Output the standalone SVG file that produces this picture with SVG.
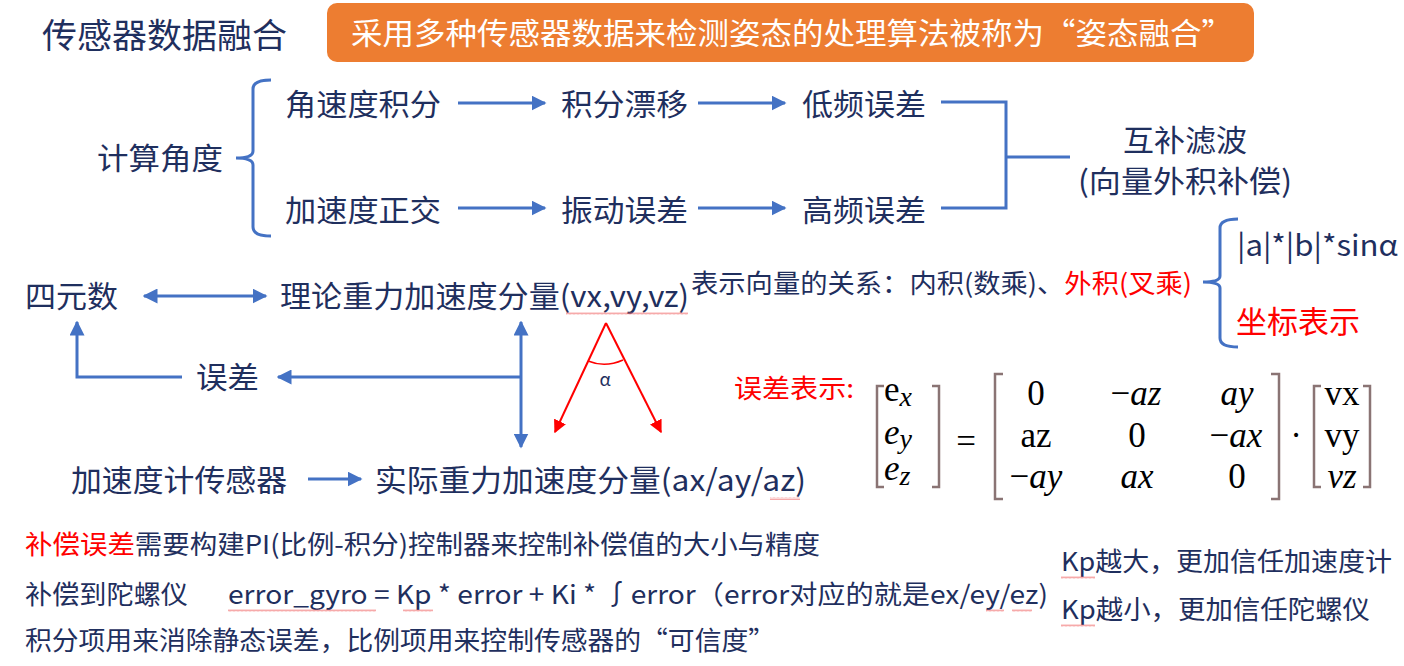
<svg xmlns="http://www.w3.org/2000/svg" width="1404" height="666" viewBox="0 0 1404 666">
<defs>
<marker id="ah" viewBox="0 0 10 10" refX="9" refY="5" markerWidth="5" markerHeight="5" orient="auto-start-reverse" markerUnits="strokeWidth"><path d="M0,0 L10,5 L0,10 Z" fill="#4472C4"/></marker>
<marker id="ahr" viewBox="0 0 10 10" refX="9" refY="5" markerWidth="6.5" markerHeight="6.5" orient="auto" markerUnits="strokeWidth"><path d="M0,0 L10,5 L0,10 Z" fill="#FF0000"/></marker>
<pattern id="sq" width="4" height="3" patternUnits="userSpaceOnUse"><path d="M0,2.5 L1,0.5 L2,2.5 L3,0.5 L4,2.5" fill="none" stroke="#F07070" stroke-width="0.6"/></pattern>
</defs>
<style>
.t{font-family:"Noto Sans CJK SC","Microsoft YaHei",sans-serif;fill:#1F2F5E}
.r{fill:#FF0000}
.ln{fill:none;stroke:#4472C4;stroke-width:3}
.a{fill:none;stroke:#4472C4;stroke-width:3;marker-end:url(#ah)}
.a2{fill:none;stroke:#4472C4;stroke-width:3;marker-start:url(#ah);marker-end:url(#ah)}
.red{fill:none;stroke:#FF0000;stroke-width:2;marker-end:url(#ahr)}
.m{font-family:"Liberation Serif","DejaVu Serif",serif;fill:#000;font-size:35px}
.mi{font-style:italic}
.br{fill:none;stroke:#8A7474;stroke-width:2.5}
</style>
<rect width="1404" height="666" fill="#FFFFFF"/>

<g id="title"><text class="t" x="42" y="48" font-size="34" textLength="245" lengthAdjust="spacingAndGlyphs">传感器数据融合</text></g>
<g id="banner">
<rect x="327" y="3" width="927" height="59" rx="10" fill="#ED7D31"/>
<text class="t" x="351" y="44" font-size="30" style="fill:#FFFFFF" textLength="882" lengthAdjust="spacingAndGlyphs">采用多种传感器数据来检测姿态的处理算法被称为“姿态融合”</text>
</g>

<g id="n-calc"><text class="t" x="97" y="169" font-size="30" textLength="126" lengthAdjust="spacingAndGlyphs">计算角度</text></g>
<g id="n-gyro"><text class="t" x="285" y="115" font-size="30" textLength="156" lengthAdjust="spacingAndGlyphs">角速度积分</text></g>
<g id="n-drift"><text class="t" x="561" y="115" font-size="30" textLength="127" lengthAdjust="spacingAndGlyphs">积分漂移</text></g>
<g id="n-low"><text class="t" x="802" y="115" font-size="30" textLength="124" lengthAdjust="spacingAndGlyphs">低频误差</text></g>
<g id="n-acc"><text class="t" x="285" y="221" font-size="30" textLength="156" lengthAdjust="spacingAndGlyphs">加速度正交</text></g>
<g id="n-vib"><text class="t" x="561" y="221" font-size="30" textLength="127" lengthAdjust="spacingAndGlyphs">振动误差</text></g>
<g id="n-high"><text class="t" x="802" y="221" font-size="30" textLength="124" lengthAdjust="spacingAndGlyphs">高频误差</text></g>
<g id="n-comp">
<text class="t" x="1123" y="151" font-size="30" textLength="124" lengthAdjust="spacingAndGlyphs">互补滤波</text>
<text class="t" x="1078" y="192" font-size="30" textLength="214" lengthAdjust="spacingAndGlyphs">(向量外积补偿)</text>
</g>

<g id="n-quat"><text class="t" x="25" y="307" font-size="30" textLength="93" lengthAdjust="spacingAndGlyphs">四元数</text></g>
<g id="n-theory"><text class="t" x="280" y="307" font-size="30" textLength="409" lengthAdjust="spacingAndGlyphs">理论重力加速度分量(vx,vy,vz)</text></g>
<g id="n-rel"><text class="t" x="691" y="293" font-size="26" textLength="501" lengthAdjust="spacingAndGlyphs">表示向量的关系：内积(数乘)、<tspan class="r">外积(叉乘)</tspan></text></g>
<g id="n-sin"><text class="t" x="1237" y="256" font-size="29" textLength="161" lengthAdjust="spacingAndGlyphs">|a|*|b|*sinα</text></g>
<g id="n-coord"><text class="t r" x="1236" y="333" font-size="31" textLength="124" lengthAdjust="spacingAndGlyphs">坐标表示</text></g>
<g id="n-err"><text class="t" x="196" y="388" font-size="30" textLength="63" lengthAdjust="spacingAndGlyphs">误差</text></g>
<g id="n-accs"><text class="t" x="71" y="491" font-size="30" textLength="216" lengthAdjust="spacingAndGlyphs">加速度计传感器</text></g>
<g id="n-actual"><text class="t" x="375" y="491" font-size="30" textLength="431" lengthAdjust="spacingAndGlyphs">实际重力加速度分量(ax/ay/az)</text></g>

<g id="angle">
<line class="red" x1="606" y1="323" x2="555" y2="432"/>
<line class="red" x1="606" y1="323" x2="661" y2="432"/>
<path d="M588,361 Q605,368 623,360" fill="none" stroke="#FF0000" stroke-width="1.5"/>
<text class="t" x="605" y="386" font-size="18" text-anchor="middle">α</text>
</g>

<g id="n-errexpr">
<text class="t r" x="734" y="398" font-size="26" textLength="120" lengthAdjust="spacingAndGlyphs">误差表示:</text>
<path class="br" d="M884,386 L877,386 L877,487 L884,487"/>
<path class="br" d="M932,386 L939,386 L939,487 L932,487"/>
<text class="m" x="884" y="401">e<tspan class="mi" font-size="28" dy="5">x</tspan></text>
<text class="m mi" x="884" y="444">e<tspan font-size="28" dy="4">y</tspan></text>
<text class="m mi" x="884" y="480">e<tspan font-size="28" dy="5">z</tspan></text>
<text class="m" x="966" y="453" text-anchor="middle">=</text>
<path class="br" d="M1003,374 L995,374 L995,499 L1003,499"/>
<path class="br" d="M1271,374 L1279,374 L1279,499 L1271,499"/>
<text class="m" x="1036" y="405" text-anchor="middle">0</text>
<text class="m" x="1136" y="405" text-anchor="middle">−<tspan class="mi">az</tspan></text>
<text class="m mi" x="1237" y="405" text-anchor="middle">ay</text>
<text class="m" x="1036" y="447" text-anchor="middle">az</text>
<text class="m" x="1137" y="447" text-anchor="middle">0</text>
<text class="m" x="1236" y="447" text-anchor="middle">−<tspan class="mi">ax</tspan></text>
<text class="m" x="1036" y="488" text-anchor="middle">−<tspan class="mi">ay</tspan></text>
<text class="m mi" x="1137" y="488" text-anchor="middle">ax</text>
<text class="m" x="1237" y="488" text-anchor="middle">0</text>
<text class="m" x="1296" y="447" text-anchor="middle">·</text>
<path class="br" d="M1321,386 L1314,386 L1314,487 L1321,487"/>
<path class="br" d="M1363,386 L1370,386 L1370,487 L1363,487"/>
<text class="m" x="1342" y="405" text-anchor="middle">vx</text>
<text class="m" x="1342" y="447" text-anchor="middle">vy</text>
<text class="m mi" x="1342" y="488" text-anchor="middle">vz</text>
</g>

<g id="notes">
<text class="t" x="25" y="554" font-size="26" textLength="795" lengthAdjust="spacingAndGlyphs"><tspan class="r">补偿误差</tspan>需要构建PI(比例-积分)控制器来控制补偿值的大小与精度</text>
<text class="t" x="25" y="604" font-size="26" textLength="163" lengthAdjust="spacingAndGlyphs">补偿到陀螺仪</text>
<text class="t" x="228" y="604" font-size="26" textLength="820" lengthAdjust="spacingAndGlyphs">error_gyro = Kp * error + Ki * ∫error（error对应的就是ex/ey/ez)</text>
<text class="t" x="25" y="650" font-size="26" textLength="750" lengthAdjust="spacingAndGlyphs">积分项用来消除静态误差，比例项用来控制传感器的“可信度”</text>
<text class="t" x="1061" y="571" font-size="26" textLength="331" lengthAdjust="spacingAndGlyphs">Kp越大，更加信任加速度计</text>
<text class="t" x="1061" y="619" font-size="26" textLength="309" lengthAdjust="spacingAndGlyphs">Kp越小，更加信任陀螺仪</text>
</g>

<g id="spell">
<rect x="566" y="312" width="122" height="3" fill="url(#sq)"/>
<rect x="770" y="497" width="30" height="3" fill="url(#sq)"/>
<rect x="228" y="609" width="148" height="3" fill="url(#sq)"/>
<rect x="403" y="609" width="30" height="3" fill="url(#sq)"/>
<rect x="986" y="609" width="18" height="3" fill="url(#sq)"/>
<rect x="1012" y="609" width="20" height="3" fill="url(#sq)"/>
<rect x="1061" y="576" width="34" height="3" fill="url(#sq)"/>
<rect x="1061" y="624" width="34" height="3" fill="url(#sq)"/>
</g>

<g id="connectors">
<path class="ln" d="M271,80 Q253,80 253,89 L253,151 Q253,158 236,158 Q253,158 253,165 L253,227 Q253,236 271,236"/>
<line class="a" x1="458" y1="103" x2="545" y2="103"/>
<line class="a" x1="698" y1="103" x2="785" y2="103"/>
<line class="a" x1="458" y1="208" x2="545" y2="208"/>
<line class="a" x1="698" y1="208" x2="785" y2="208"/>
<path class="ln" d="M941,102 L1006,102 L1006,208 L941,208 M1006,157 L1070,157"/>
<path class="ln" d="M1238,219 Q1220,219 1220,228 L1220,276 Q1220,282 1203,282 Q1220,282 1220,288 L1220,338 Q1220,347 1238,347"/>
<line class="a2" x1="144" y1="296" x2="266" y2="296"/>
<line class="a2" x1="521" y1="322" x2="521" y2="447"/>
<line class="a" x1="521" y1="377" x2="278" y2="377"/>
<path class="a" d="M182,377 L77,377 L77,322"/>
<line class="a" x1="308" y1="479" x2="361" y2="479"/>
</g>
</svg>
